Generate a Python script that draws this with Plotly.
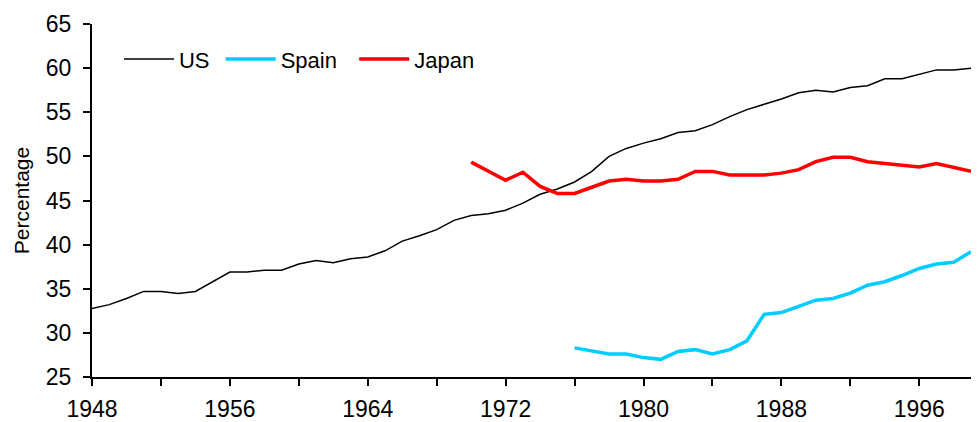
import plotly.graph_objects as go

us_years = list(range(1948, 2000))
us_values = [32.75, 33.2, 33.9, 34.7, 34.7, 34.45, 34.7, 35.8, 36.9, 36.9,
             37.1, 37.1, 37.8, 38.2, 37.95, 38.4, 38.6, 39.3, 40.4, 41.0,
             41.7, 42.75, 43.3, 43.5, 43.9, 44.7, 45.7, 46.3, 47.1, 48.3,
             50.0, 50.9, 51.5, 52.0, 52.7, 52.9, 53.6, 54.5, 55.3, 55.9,
             56.5, 57.2, 57.5, 57.3, 57.8, 58.0, 58.8, 58.8, 59.3, 59.8,
             59.8, 60.0]

spain_years = list(range(1976, 2000))
spain_values = [28.3, 28.0, 27.6, 27.6, 27.2, 27.0, 27.9, 28.1, 27.6, 28.1,
                29.1, 32.1, 32.3, 33.0, 33.7, 33.9, 34.5, 35.4, 35.8, 36.5,
                37.3, 37.8, 38.0, 39.2]

japan_years = list(range(1970, 2000))
japan_values = [49.35, 48.3, 47.3, 48.2, 46.6, 45.8, 45.8, 46.5, 47.2, 47.4,
                47.2, 47.2, 47.4, 48.3, 48.3, 47.9, 47.9, 47.9, 48.1, 48.5,
                49.4, 49.9, 49.9, 49.4, 49.2, 49.0, 48.8, 49.2, 48.8, 48.3]

x_tickvals = list(range(1948, 2000, 4))
x_ticktext = [str(v) if (v - 1948) % 8 == 0 else "" for v in x_tickvals]
y_tickvals = list(range(25, 66, 5))

font = "Liberation Sans, Arial, sans-serif"
NBSP = "\u00a0"

fig = go.Figure()
fig.add_trace(go.Scatter(x=us_years, y=us_values, mode="lines", name="US" + NBSP,
                         line=dict(color="#000000", width=1.5)))
fig.add_trace(go.Scatter(x=spain_years, y=spain_values, mode="lines",
                         name="Spain" + NBSP * 2,
                         line=dict(color="#00CCFF", width=3.5)))
fig.add_trace(go.Scatter(x=japan_years, y=japan_values, mode="lines", name="Japan",
                         line=dict(color="#FF0000", width=3.5)))

# page body has an 8px margin, so the figure is sized/offset to compensate
fig.update_layout(
    width=963, height=414,
    margin=dict(l=84, r=0, t=16, b=45),
    paper_bgcolor="white", plot_bgcolor="white",
    font=dict(family=font, size=22, color="#000000"),
    showlegend=True,
    legend=dict(orientation="h", x=0.0307, y=0.9, xanchor="left", yanchor="middle",
                bgcolor="rgba(0,0,0,0)", font=dict(size=22), itemwidth=50),
    xaxis=dict(range=[1948, 1999], tickvals=x_tickvals, ticktext=x_ticktext,
               ticks="outside", ticklen=7, tickwidth=2, tickcolor="#000000",
               showline=True, linecolor="#000000", linewidth=2, automargin=False,
               showgrid=False, zeroline=False, tickfont=dict(size=23),
               ticklabelstandoff=3),
    yaxis=dict(range=[25, 65], tickvals=y_tickvals, automargin=False,
               ticks="outside", ticklen=7, tickwidth=2, tickcolor="#000000",
               showline=True, linecolor="#000000", linewidth=2,
               showgrid=False, zeroline=False, tickfont=dict(size=23),
               ticklabelstandoff=7,
               title=dict(text="Percentage", font=dict(size=21), standoff=10)),
)

fig.write_html("out.html")
